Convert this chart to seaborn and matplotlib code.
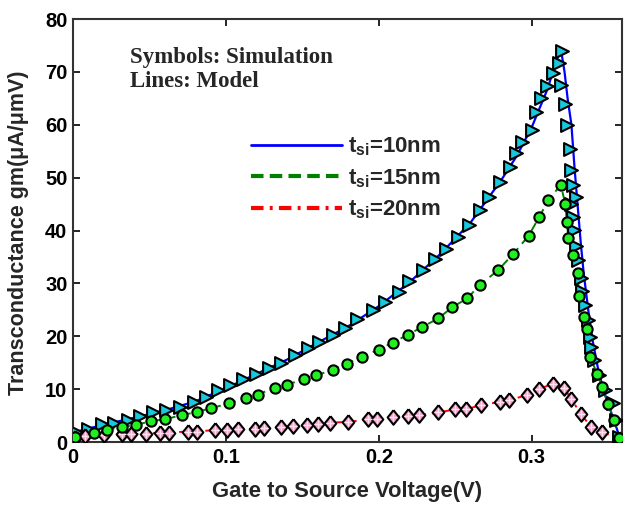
import matplotlib
matplotlib.use("Agg")
import matplotlib.pyplot as plt
import seaborn as sns
from matplotlib.lines import Line2D

# ---- data ----
vgs_10 = [0.002, 0.010, 0.019, 0.027, 0.036, 0.044, 0.052, 0.061, 0.070, 0.079, 0.087, 0.095, 0.103,
          0.111, 0.120, 0.128, 0.136, 0.145, 0.154, 0.161, 0.170, 0.178, 0.186, 0.196, 0.204, 0.213,
          0.220, 0.229, 0.237, 0.244, 0.252, 0.259, 0.266, 0.272, 0.279, 0.286, 0.290, 0.294, 0.300,
          0.303, 0.306, 0.310, 0.314, 0.318, 0.320,
          0.319, 0.322, 0.323, 0.325, 0.326, 0.327, 0.329, 0.326, 0.327, 0.328, 0.329, 0.330, 0.332,
          0.333, 0.335, 0.337, 0.338, 0.339, 0.341, 0.344, 0.348, 0.353, 0.355, 0.357]
gm_10 = [1.9, 2.4, 3.4, 3.6, 4.2, 4.9, 5.6, 6.1, 6.6, 7.6, 8.6, 9.9, 10.8,
         12.0, 12.9, 14.0, 15.0, 16.5, 17.8, 19.0, 20.2, 21.5, 23.2, 25.0, 26.5, 28.4,
         30.5, 32.5, 34.7, 36.6, 38.8, 41.0, 43.9, 46.4, 49.2, 52.1, 54.6, 56.7, 59.0,
         62.5, 65.0, 67.3, 69.7, 71.6, 74.0,
         67.5, 64.0, 60.0, 55.5, 51.4, 48.6, 46.4, 45.1, 42.6, 40.1, 37.0, 34.4, 31.0,
         28.5, 25.9, 23.1, 19.9, 18.0, 15.5, 12.7, 9.8, 7.3, 4.2, 1.0]

vgs_15 = [0.001, 0.014, 0.022, 0.032, 0.041, 0.051, 0.060, 0.071, 0.081, 0.090, 0.102, 0.113, 0.121,
          0.132, 0.140, 0.151, 0.159, 0.170, 0.179, 0.189, 0.200, 0.209, 0.219, 0.228, 0.239, 0.248,
          0.258, 0.266, 0.278, 0.288, 0.298, 0.305, 0.311, 0.319,
          0.322, 0.323, 0.324, 0.327, 0.330, 0.331, 0.334, 0.336, 0.338, 0.343, 0.346, 0.350, 0.354, 0.357]
gm_15 = [1.0, 1.8, 2.3, 2.9, 3.2, 4.0, 4.3, 5.1, 5.7, 6.4, 7.3, 8.4, 9.0,
         10.3, 10.8, 12.0, 12.6, 13.7, 14.8, 16.1, 17.5, 18.8, 20.3, 21.7, 23.4, 25.5,
         27.2, 29.7, 32.5, 35.6, 39.0, 42.6, 45.8, 48.6,
         45.1, 41.6, 38.5, 35.4, 31.9, 27.6, 23.7, 21.3, 16.1, 12.9, 10.5, 7.2, 4.2, 0.7]

vgs_20 = [0.001, 0.008, 0.020, 0.032, 0.038, 0.048, 0.057, 0.063, 0.075, 0.081, 0.093, 0.101, 0.108,
          0.119, 0.125, 0.136, 0.144, 0.153, 0.160, 0.168, 0.180, 0.193, 0.199, 0.209, 0.219, 0.226,
          0.239, 0.250, 0.257, 0.267, 0.279, 0.285, 0.297, 0.305, 0.314, 0.321, 0.326, 0.332, 0.339,
          0.346, 0.357]
gm_20 = [0.7, 1.1, 1.3, 1.6, 1.5, 1.6, 1.8, 1.8, 2.0, 2.0, 2.3, 2.3, 2.5,
         2.5, 2.7, 2.9, 3.0, 3.2, 3.4, 3.7, 3.8, 4.3, 4.3, 4.8, 4.9, 5.1,
         5.6, 6.2, 6.2, 7.0, 7.6, 7.9, 8.9, 10.1, 11.0, 10.3, 8.1, 5.4, 2.8,
         2.0, 0.5]

# model curve for t_si = 10 nm
vgs_model_10 = [0.0, 0.02, 0.04, 0.06, 0.08, 0.10, 0.12, 0.14, 0.16, 0.18, 0.20, 0.22, 0.24, 0.26,
                0.28, 0.29, 0.30, 0.31, 0.319, 0.3215, 0.3235, 0.326, 0.328, 0.330, 0.332, 0.334,
                0.337, 0.340, 0.344, 0.349, 0.354, 0.358]
gm_model_10 = [1.8, 3.3, 4.6, 6.0, 7.7, 10.2, 12.9, 15.6, 18.8, 21.9, 25.7, 30.2, 35.5, 41.5,
               49.5, 54.0, 59.5, 66.5, 74.5, 70.0, 65.0, 60.0, 52.0, 45.0, 38.0, 32.0,
               25.0, 19.0, 13.0, 8.0, 4.0, 0.5]

legend_labels = [r"$\mathbf{t}_{\mathbf{si}}$=10nm", r"$\mathbf{t}_{\mathbf{si}}$=15nm",
                 r"$\mathbf{t}_{\mathbf{si}}$=20nm"]
x_ticks = [0, 0.1, 0.2, 0.3]
x_tick_labels = ["0", "0.1", "0.2", "0.3"]
y_ticks = [0, 10, 20, 30, 40, 50, 60, 70, 80]

# ---- style ----
sns.set_style("ticks")
plt.rcParams["font.family"] = ["Liberation Sans", "DejaVu Sans"]
plt.rcParams["font.weight"] = "bold"
plt.rcParams["mathtext.fontset"] = "custom"
plt.rcParams["mathtext.bf"] = "Liberation Sans:bold"
plt.rcParams["mathtext.rm"] = "Liberation Sans:bold"
plt.rcParams["mathtext.it"] = "Liberation Sans:bold"

fig = plt.figure(figsize=(6.25, 5.07), dpi=100)
ax = fig.add_axes([0.1168, 0.128, 0.8782, 0.8345])

# model lines
sns.lineplot(x=vgs_model_10, y=gm_model_10, sort=False, estimator=None, color="#0000ff",
             linewidth=1.6, ax=ax, zorder=2)
sns.lineplot(x=vgs_15, y=gm_15, sort=False, estimator=None, color="#008000",
             linewidth=1.4, linestyle=(0, (5, 3)), ax=ax, zorder=2)
sns.lineplot(x=vgs_20, y=gm_20, sort=False, estimator=None, color="#ff0000",
             linewidth=1.4, linestyle=(0, (6, 3, 1.5, 3)), ax=ax, zorder=2)

# simulation symbols
diamond = [(0, 1), (0.8, 0), (0, -1), (-0.8, 0), (0, 1)]
sns.scatterplot(x=vgs_10, y=gm_10, marker=">", s=85, color="#18c8dc", edgecolor="black",
                linewidth=1.5, ax=ax, zorder=3, legend=False)
sns.scatterplot(x=vgs_15, y=gm_15, marker="o", s=55, color="#22ee22", edgecolor="black",
                linewidth=1.5, ax=ax, zorder=4, legend=False)
sns.scatterplot(x=vgs_20, y=gm_20, marker=diamond, s=110, color="#f0a0c8", edgecolor="black",
                linewidth=1.5, ax=ax, zorder=3, legend=False)
sns.scatterplot(x=vgs_20, y=gm_20, marker="+", s=30, color="#ffe4f0",
                linewidth=1.0, ax=ax, zorder=3.5, legend=False)

# legend (lines only)
handles = [Line2D([], [], color="#0000ff", linewidth=2.0),
           Line2D([], [], color="#008000", linewidth=3.0, linestyle=(0, (3, 1.5))),
           Line2D([], [], color="#ff0000", linewidth=3.0, linestyle=(0, (3, 1.5, 0.7, 1.5)))]
ax.legend(handles, legend_labels, loc="upper left", bbox_to_anchor=(0.288, 0.772),
          frameon=False, handlelength=4.1, handletextpad=0.25, labelspacing=0.4,
          prop={"family": "Liberation Sans", "weight": "bold", "size": 16})

ax.text(0.104, 0.896, "Symbols: Simulation", transform=ax.transAxes,
        family="Liberation Serif", fontweight="bold", fontsize=16.5, va="baseline", ha="left")
ax.text(0.104, 0.839, "Lines: Model", transform=ax.transAxes,
        family="Liberation Serif", fontweight="bold", fontsize=16.5, va="baseline", ha="left")

ax.set_xlim(0, 0.359)
ax.set_ylim(0, 80)
ax.set_xticks(x_ticks)
ax.set_xticklabels(x_tick_labels)
ax.set_yticks(y_ticks)
ax.tick_params(direction="in", length=5, width=1.2, top=True, right=True,
               labelsize=14.5, colors="black", pad=4)
for lab in ax.get_xticklabels() + ax.get_yticklabels():
    lab.set_fontweight("bold")
for sp in ax.spines.values():
    sp.set_linewidth(1.5)
    sp.set_color("#333333")
    sp.set_visible(True)

ax.set_xlabel("Gate to Source Voltage(V)", fontsize=15.8, fontweight="bold", labelpad=10)
ax.set_ylabel("Transconductance gm(\u03bcA/\u03bcmV)", fontsize=15.5, fontweight="bold")
ax.yaxis.set_label_coords(-0.081, 0.495)

fig.savefig("out.png", dpi=100)
